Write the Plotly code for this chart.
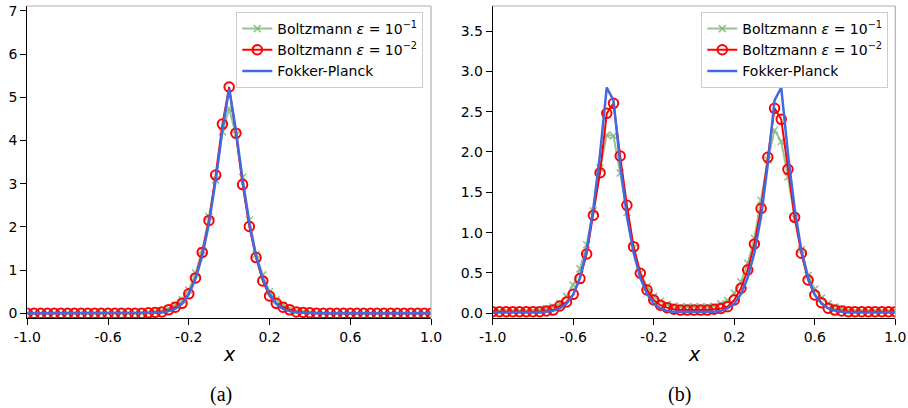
import numpy as np
import plotly.graph_objects as go

# grid of cell centres, spacing 1/30
x_grid = np.linspace(-1.0, 1.0, 61)

# ---- panel (a) ----
a_boltz_e1 = [0.0]*17 + [0.01, 0.02, 0.04, 0.06, 0.11, 0.19, 0.31, 0.54, 0.93, 1.45, 2.24, 3.09, 4.20,
                         4.74, 4.13, 3.15, 2.16, 1.36, 0.89, 0.50, 0.31, 0.19, 0.11, 0.06, 0.04, 0.02, 0.01] + [0.0]*17
a_boltz_e2 = [0.0]*18 + [0.01, 0.02, 0.03, 0.08, 0.14, 0.23, 0.45, 0.82, 1.41, 2.15, 3.20, 4.38,
                         5.24, 4.17, 2.98, 2.01, 1.29, 0.75, 0.40, 0.23, 0.14, 0.08, 0.03, 0.02, 0.01] + [0.0]*18
a_fokker = [0.0]*19 + [0.01, 0.02, 0.05, 0.10, 0.22, 0.44, 0.80, 1.33, 2.08, 3.08, 4.25,
                       5.20, 4.25, 3.08, 2.08, 1.33, 0.80, 0.44, 0.22, 0.10, 0.05, 0.02, 0.01] + [0.0]*19

# ---- panel (b) ----
b_boltz_e1 = [0.03]*7 + [0.04, 0.06, 0.08, 0.12, 0.21, 0.35, 0.55, 0.85, 1.27, 1.80, 2.21, 2.20, 1.74, 1.25,
                         0.81, 0.50, 0.33, 0.21, 0.15, 0.11, 0.09, 0.08, 0.08, 0.08, 0.08, 0.08, 0.09, 0.12,
                         0.16, 0.25, 0.39, 0.62, 0.93, 1.40, 1.90, 2.27, 2.13, 1.69, 1.18, 0.79, 0.47, 0.30,
                         0.19, 0.12, 0.08, 0.06, 0.04] + [0.03]*7
b_boltz_e2 = [0.02]*8 + [0.03, 0.04, 0.09, 0.14, 0.235, 0.43, 0.735, 1.215, 1.743, 2.479, 2.603, 1.95, 1.339,
                         0.826, 0.496, 0.289, 0.165, 0.10, 0.07, 0.05, 0.04, 0.04, 0.04, 0.04, 0.04, 0.05, 0.06,
                         0.082, 0.165, 0.31, 0.537, 0.859, 1.30, 1.934, 2.541, 2.405, 1.785, 1.19, 0.744, 0.413,
                         0.227, 0.131, 0.062, 0.04, 0.03] + [0.02]*8
b_fokker = [0.01]*8 + [0.02, 0.03, 0.06, 0.12, 0.23, 0.44, 0.78, 1.30, 1.98, 2.80, 2.64, 1.85, 1.20, 0.75,
                       0.44, 0.24, 0.12, 0.06, 0.03, 0.02, 0.02, 0.02, 0.02, 0.02, 0.02, 0.02, 0.03, 0.06,
                       0.12, 0.24, 0.44, 0.75, 1.20, 1.85, 2.64, 2.80, 1.98, 1.30, 0.78, 0.44, 0.23, 0.12,
                       0.06, 0.03, 0.02] + [0.01]*8

x_tickvals = [-1.0, -0.6, -0.2, 0.2, 0.6, 1.0]
x_ticktext = ["-1.0", "-0.6", "-0.2", "0.2", "0.6", "1.0"]
a_yticks = [0, 1, 2, 3, 4, 5, 6, 7]
b_yticks = [0.0, 0.5, 1.0, 1.5, 2.0, 2.5, 3.0, 3.5]

names = ["Boltzmann <i>ε</i> = 10<sup>−1</sup>",
         "Boltzmann <i>ε</i> = 10<sup>−2</sup>",
         "Fokker-Planck"]

GREEN = "rgba(130,185,130,0.85)"
RED = "#ff0000"
BLUE = "#4169e1"
FONT = "DejaVu Sans"

W, H = 908, 408
fig = go.Figure()

def add_panel(suffix, legend, e1, e2, fp):
    xa = "x" + suffix
    ya = "y" + suffix
    fig.add_trace(go.Scatter(x=x_grid, y=e1, mode="lines+markers", name=names[0],
                             line=dict(color=GREEN, width=2),
                             marker=dict(symbol="x-thin", size=7, line=dict(color=GREEN, width=1.6)),
                             xaxis=xa, yaxis=ya, legend=legend))
    fig.add_trace(go.Scatter(x=x_grid, y=e2, mode="lines+markers", name=names[1],
                             line=dict(color=RED, width=2),
                             marker=dict(symbol="circle-open", size=9.5, color=RED, line=dict(color=RED, width=2)),
                             xaxis=xa, yaxis=ya, legend=legend))
    fig.add_trace(go.Scatter(x=x_grid, y=fp, mode="lines", name=names[2],
                             line=dict(color=BLUE, width=2.5),
                             xaxis=xa, yaxis=ya, legend=legend))

add_panel("", "legend", a_boltz_e1, a_boltz_e2, a_fokker)
add_panel("2", "legend2", b_boltz_e1, b_boltz_e2, b_fokker)

y_dom = [1 - 318.3 / H, 1 - 6 / H]
ax_common = dict(showgrid=False, zeroline=False, showline=True, linecolor="black", linewidth=1,
                 ticks="outside", ticklen=6, tickcolor="black", tickwidth=1, automargin=False,
                 tickfont=dict(family=FONT, size=14, color="black"))

leg_common = dict(xanchor="right", yanchor="top", bgcolor="rgba(255,255,255,0.8)",
                  bordercolor="#cccccc", borderwidth=1, tracegroupgap=0,
                  font=dict(family=FONT, size=14, color="black"))

fig.update_layout(
    width=W, height=H, margin=dict(l=0, r=0, t=0, b=0, autoexpand=False),
    paper_bgcolor="white", plot_bgcolor="white",
    font=dict(family=FONT, size=14, color="black"),
    xaxis=dict(domain=[27.3 / W, 431 / W], range=[-1, 1], tickvals=x_tickvals, ticktext=x_ticktext,
               anchor="y", **ax_common),
    yaxis=dict(domain=y_dom, range=[-0.116, 7.115], tickvals=a_yticks, anchor="x", **ax_common),
    xaxis2=dict(domain=[492.7 / W, 895.3 / W], range=[-1, 1], tickvals=x_tickvals, ticktext=x_ticktext,
                anchor="y2", **ax_common),
    yaxis2=dict(domain=y_dom, range=[-0.062, 3.81], tickvals=b_yticks, tickformat=".1f", anchor="x2",
                **ax_common),
    legend=dict(x=423.3 / W, y=1 - 12 / H, **leg_common),
    legend2=dict(x=888.3 / W, y=1 - 12 / H, **leg_common),
    showlegend=True,
)

# light grey top/right spines
for xr, yr in (("x", "y"), ("x2", "y2")):
    fig.add_shape(type="line", xref=xr + " domain", yref=yr + " domain", x0=0, x1=1, y0=1, y1=1,
                  line=dict(color="#b0b0b0", width=1.2))
    fig.add_shape(type="line", xref=xr + " domain", yref=yr + " domain", x0=1, x1=1, y0=0, y1=1,
                  line=dict(color="#b0b0b0", width=1.2))

# axis labels and sub-captions
for cx in (229 / W, 694 / W):
    fig.add_annotation(x=cx, y=1 - 354 / H, xref="paper", yref="paper", text="<i>x</i>", showarrow=False,
                       font=dict(family=FONT, size=19, color="black"), xanchor="center", yanchor="middle")
for cx, cap in ((221 / W, "(a)"), (679 / W, "(b)")):
    fig.add_annotation(x=cx, y=1 - 394 / H, xref="paper", yref="paper", text=cap, showarrow=False,
                       font=dict(family="Liberation Serif", size=20, color="black"),
                       xanchor="center", yanchor="middle")

fig.write_html("out.html", config={"displayModeBar": False},
               post_script="document.body.style.margin='0px';document.body.style.padding='0px';"
                           "document.body.style.overflow='hidden';")
